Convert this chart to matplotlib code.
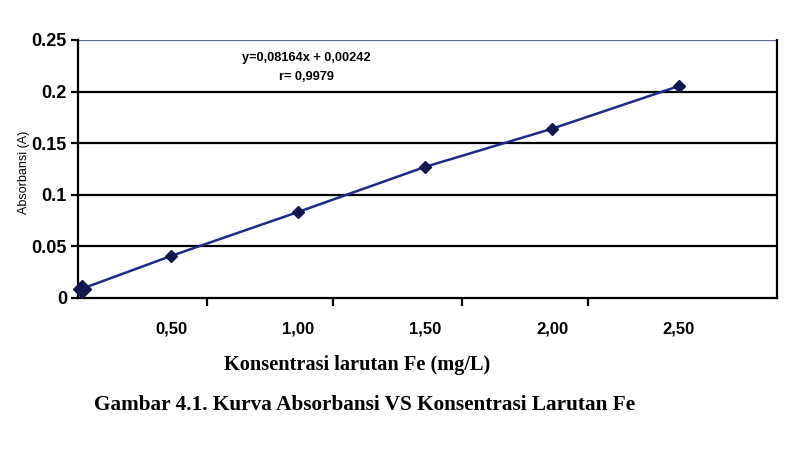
import matplotlib
matplotlib.use("Agg")
import matplotlib.pyplot as plt
import numpy as np

# Data
konsentrasi = [0.15, 0.5, 1.0, 1.5, 2.0, 2.5]
absorbansi = [0.009, 0.0407, 0.0833, 0.127, 0.164, 0.2054]
xtick_vals = [0.5, 1.0, 1.5, 2.0, 2.5]
xtick_labels = ["0,50", "1,00", "1,50", "2,00", "2,50"]
xtick_marks = [0.642, 1.138, 1.646, 2.142]
ytick_vals = [0, 0.05, 0.1, 0.15, 0.2, 0.25]
ytick_labels = ["0", "0.05", "0.1", "0.15", "0.2", "0.25"]
equation = "y=0,08164x + 0,00242"
r_text = "r= 0,9979"

fig = plt.figure(figsize=(7.86, 4.58), dpi=100)
ax = fig.add_axes([78/786, 1-298/458, (777-78)/786, (298-40)/458])

ax.set_xlim(0.134, 2.886)
ax.set_ylim(0, 0.25)

for v in ytick_vals[1:]:
    col = "#5a6a8a" if v == 0.25 else "black"
    ax.axhline(v, color=col, lw=1.6, zorder=1)

ax.plot(konsentrasi, absorbansi, color="#1c2a8a", lw=1.8, zorder=3)
sizes = [9] + [6] * (len(konsentrasi) - 1)
for xv, yv, ms in zip(konsentrasi, absorbansi, sizes):
    ax.plot(xv, yv, linestyle="none", marker="D", ms=ms, color="#14164f",
            zorder=4, clip_on=False)

ax.set_xticks(xtick_vals)
ax.set_xticklabels(xtick_labels, fontfamily="Liberation Sans", fontweight="bold", fontsize=12)
ax.tick_params(axis="x", which="major", length=0, pad=17)
ax.set_xticks(xtick_marks, minor=True)
ax.tick_params(axis="x", which="minor", length=6, width=1.6, direction="out", color="black")

ax.set_yticks(ytick_vals)
ax.set_yticklabels(ytick_labels, fontfamily="Liberation Sans", fontweight="bold", fontsize=13)
ax.tick_params(axis="y", length=5, width=1.6, direction="out", pad=3)

for s in ["left", "bottom", "right"]:
    ax.spines[s].set_linewidth(1.6)
    ax.spines[s].set_color("black")
ax.spines["top"].set_visible(False)

fig.text(24/786, 1-172/458, "Absorbansi (A)", rotation=90, ha="center", va="center",
         fontfamily="Liberation Sans", fontsize=9)

fig.text(306/786, 1-58/458, equation, ha="center", va="center",
         fontfamily="Liberation Sans", fontweight="bold", fontsize=9.2)
fig.text(306/786, 1-77/458, r_text, ha="center", va="center",
         fontfamily="Liberation Sans", fontweight="bold", fontsize=9.2)

fig.text(357/786, 1-365/458, "Konsentrasi larutan Fe (mg/L)", ha="center", va="center",
         fontfamily="Liberation Serif", fontweight="bold", fontsize=14.7)
fig.text(365/786, 1-405/458, "Gambar 4.1. Kurva Absorbansi VS Konsentrasi Larutan Fe",
         ha="center", va="center", fontfamily="Liberation Serif", fontweight="bold", fontsize=15.3)

fig.savefig("out.png", dpi=100, facecolor="white")
